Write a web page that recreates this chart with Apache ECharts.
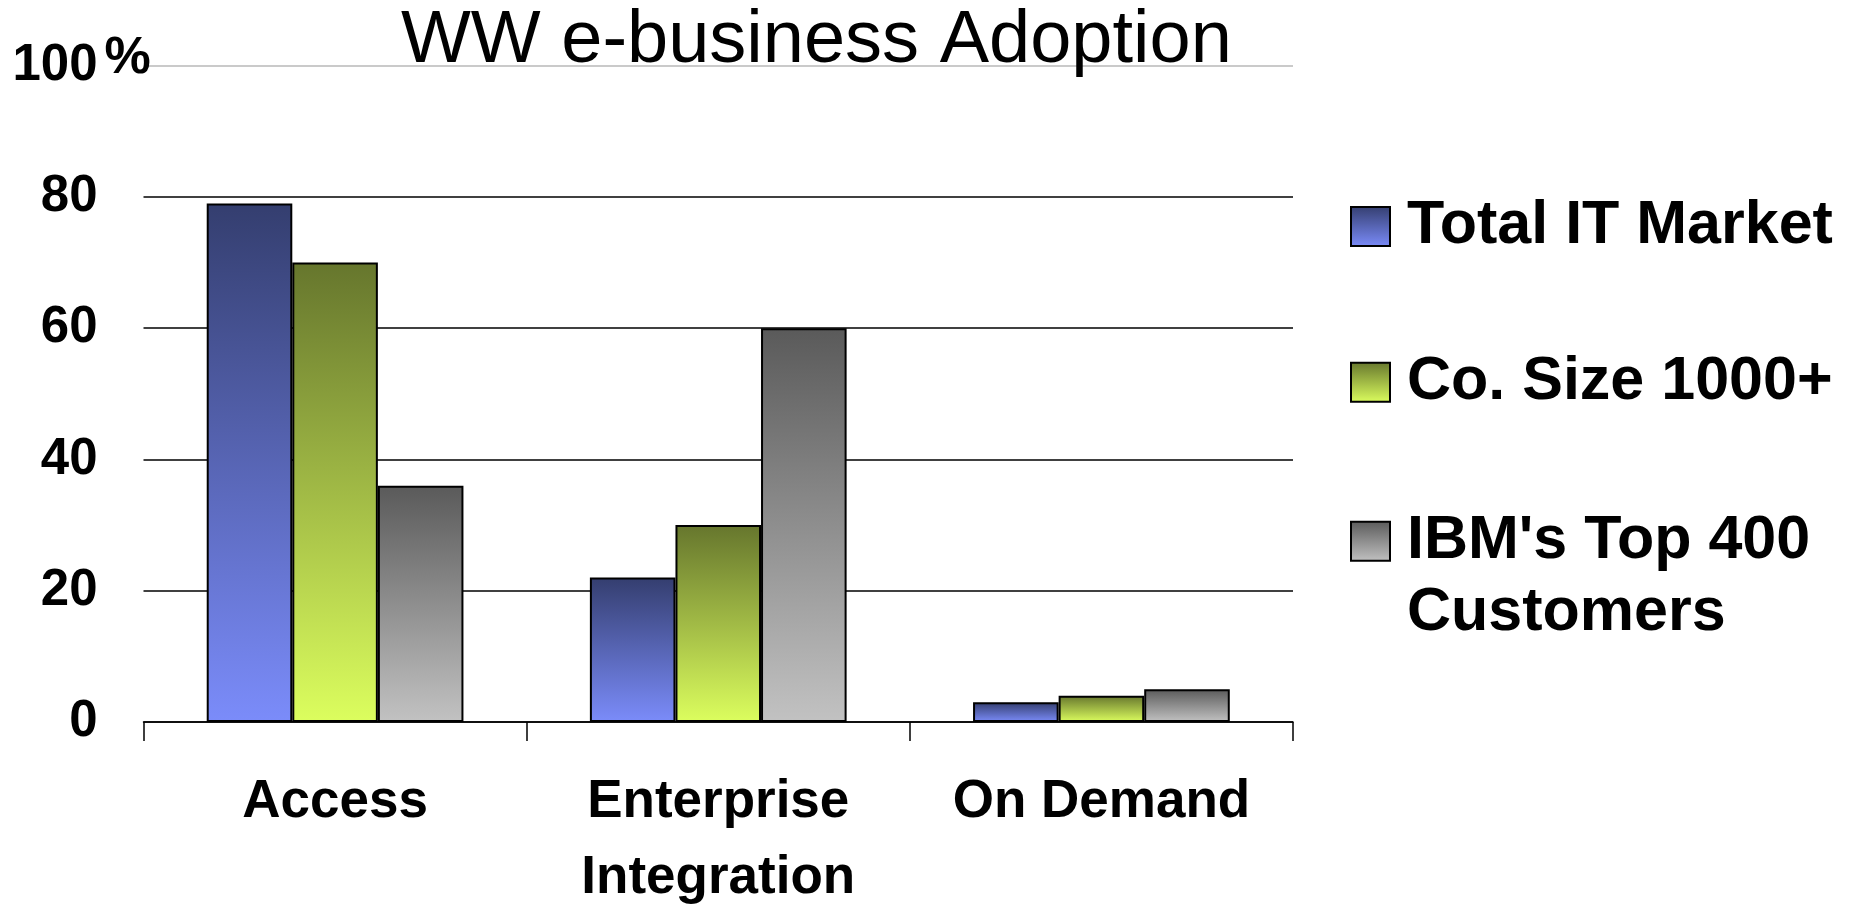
<!DOCTYPE html>
<html>
<head>
<meta charset="utf-8">
<script src="https://cdn.jsdelivr.net/npm/echarts@6/dist/echarts.min.js"></script>
<style>
  html, body { margin: 0; padding: 0; background: #ffffff; }
  #chart { width: 1854px; height: 916px; }
</style>
</head>
<body>
<div id="chart"></div>
<script>
const titleText = 'WW e-business Adoption';
const categories = ['Access', 'Enterprise\nIntegration', 'On Demand'];
const seriesNames = ['Total IT Market', 'Co. Size 1000+', "IBM's Top 400 Customers"];
const totalITMarket = [79, 22, 3];
const coSize1000 = [70, 30, 4];
const ibmTop400 = [36, 60, 5];
const yTicks = [0, 20, 40, 60, 80, 100];

const FONT = '"Liberation Sans", Arial, sans-serif';

function grad(top, bottom) {
  return new echarts.graphic.LinearGradient(0, 0, 0, 1, [
    { offset: 0, color: top },
    { offset: 1, color: bottom }
  ]);
}

const styles = [
  { color: grad('#343e6f', '#7b8cfa'), borderColor: '#000', borderWidth: 2 },
  { color: grad('#66762d', '#dcfe5e'), borderColor: '#000', borderWidth: 2 },
  { color: grad('#5a5a5a', '#c2c2c2'), borderColor: '#000', borderWidth: 2 }
];
const values = [totalITMarket, coSize1000, ibmTop400];

const legendTops = [190.5, 346.2, 433.2];
const legends = seriesNames.map((name, i) => ({
  orient: 'vertical',
  left: 1350,
  top: legendTops[i],
  padding: 0,
  itemWidth: 39,
  itemHeight: 39,
  selectedMode: false,
  icon: 'rect',
  formatter: function (n) {
    // two-line entry: blank first line keeps the first text line level with the icon
    return n.indexOf(' Customers') >= 0 ? '\n' + n.replace(' Customers', '\nCustomers') : n;
  },
  data: [name],
  textStyle: {
    fontFamily: FONT,
    fontSize: 61,
    fontWeight: 'bold',
    color: '#000',
    lineHeight: 72,
    padding: [0, 0, 0, 12]
  }
}));

const chart = echarts.init(document.getElementById('chart'));
chart.setOption({
  animation: false,
  backgroundColor: '#ffffff',
  title: {
    text: titleText,
    left: 401,
    top: 5,
    padding: 0,
    textStyle: {
      fontFamily: FONT,
      fontSize: 74,
      fontWeight: 'normal',
      color: '#000'
    }
  },
  legend: legends,
  grid: {
    left: 143.5,
    right: 561,
    top: 65.6,
    bottom: 182,
    containLabel: false
  },
  xAxis: {
    type: 'category',
    data: categories,
    axisLine: { show: true, lineStyle: { color: '#000', width: 1.5 } },
    axisTick: { show: true, length: 19, lineStyle: { color: '#000', width: 1.5 } },
    axisLabel: {
      margin: 43,
      fontFamily: FONT,
      fontSize: 53,
      fontWeight: 'bold',
      color: '#000',
      lineHeight: 75.5,
      interval: 0
    },
    splitLine: { show: false }
  },
  yAxis: {
    type: 'value',
    min: 0,
    max: 100,
    interval: 20,
    name: '%',
    nameLocation: 'end',
    nameGap: 7.3,
    nameTextStyle: {
      fontFamily: FONT,
      fontSize: 52,
      fontWeight: 'bold',
      color: '#000',
      align: 'center',
      verticalAlign: 'middle',
      padding: [0, 32, 0, 0]
    },
    axisLine: { show: false },
    axisTick: { show: false },
    axisLabel: {
      margin: 46,
      fontFamily: FONT,
      fontSize: 51,
      fontWeight: 'bold',
      color: '#000',
      formatter: function (v) { return yTicks.indexOf(v) >= 0 ? String(v) : ''; }
    },
    splitLine: {
      show: true,
      lineStyle: {
        color: ['#000', '#000', '#000', '#000', '#000', '#b8b8b8'],
        width: 1.5
      }
    }
  },
  series: seriesNames.map((name, i) => ({
    name: name,
    type: 'bar',
    data: values[i],
    barGap: '0%',
    barCategoryGap: '33%',
    itemStyle: styles[i]
  }))
});
</script>
</body>
</html>
